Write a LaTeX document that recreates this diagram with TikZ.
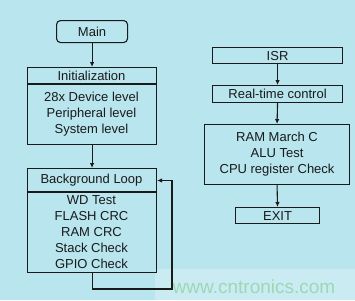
\documentclass[tikz,border=0pt]{standalone}
\usepackage{fontspec}
\setmainfont{Liberation Sans}
\usetikzlibrary{arrows.meta}
\definecolor{bgc}{HTML}{B8E5EE}
\definecolor{band}{HTML}{CBEBF2}
\definecolor{wm}{HTML}{9CD8B4}
\definecolor{ln}{HTML}{1A1A1A}
\begin{document}
\begin{tikzpicture}[x=1pt,y=-1pt,
  box/.style={draw=ln,line width=1.1pt,rectangle,inner sep=0pt,anchor=north west},
  txt/.style={font=\fontsize{13}{16}\selectfont,align=center,inner sep=0pt,text=ln},
  arr/.style={draw=ln,line width=1.1pt,-{Latex[length=5pt,width=4.5pt]}}]
\useasboundingbox (0,0) rectangle (355,300);
\fill[bgc] (0,0) rectangle (355,300);
\fill[band] (155,269) rectangle (355,300);
\node[font=\fontsize{19}{19}\selectfont,text=wm,inner sep=0pt] (wmk) at (254,287) {www.cntronics.com};
% left column
\node[box,rounded corners=4pt,minimum width=71pt,minimum height=22pt] (main) at (56,20) {};
\node[txt] (maint) at (main.center) {Main};
\node[box,minimum width=129pt,minimum height=77pt] (init) at (27,67) {};
\draw[ln,line width=1.1pt] (27,84) -- (156,84);
\node[txt] (initt) at (91.5,75.5) {Initialization};
\node[txt] (initi) at (91.5,114) {28x Device level\\Peripheral level\\System level};
\node[box,minimum width=129pt,minimum height=104pt] (bg) at (27,168) {};
\draw[ln,line width=1.1pt] (27,192) -- (156,192);
\node[txt] (bgt) at (91.5,180.5) {Background Loop};
\node[txt] (bgi) at (91.5,232.5) {WD Test\\FLASH CRC\\RAM CRC\\Stack Check\\GPIO Check};
\coordinate (lp) at (172,289);
\draw[arr] (main.south) -- (init.north);
\draw[arr] (init.south) -- (bg.north);
\draw[arr] (bg.south) -- (bg.south |- lp) -- (lp) -- (lp |- bgt) -- (bgt -| bg.east);
% right column
\node[box,minimum width=130pt,minimum height=16pt] (isr) at (212,47) {};
\node[txt] (isrt) at (isr.center) {ISR};
\node[box,minimum width=130pt,minimum height=17pt] (rt) at (212,85) {};
\node[txt] (rtt) at (rt.center) {Real-time control};
\node[box,minimum width=145pt,minimum height=60pt] (ram) at (204,124) {};
\node[txt] (ramt) at (ram.center) {RAM March C\\ALU Test\\CPU register Check};
\node[box,minimum width=84pt,minimum height=16pt] (exit) at (235,207) {};
\node[txt] (exitt) at (exit.center) {EXIT};
\draw[arr] (isr.south) -- (rt.north);
\draw[arr] (rt.south) -- (ram.north);
\draw[arr] (ram.south) -- (exit.north);
\end{tikzpicture}
\end{document}
